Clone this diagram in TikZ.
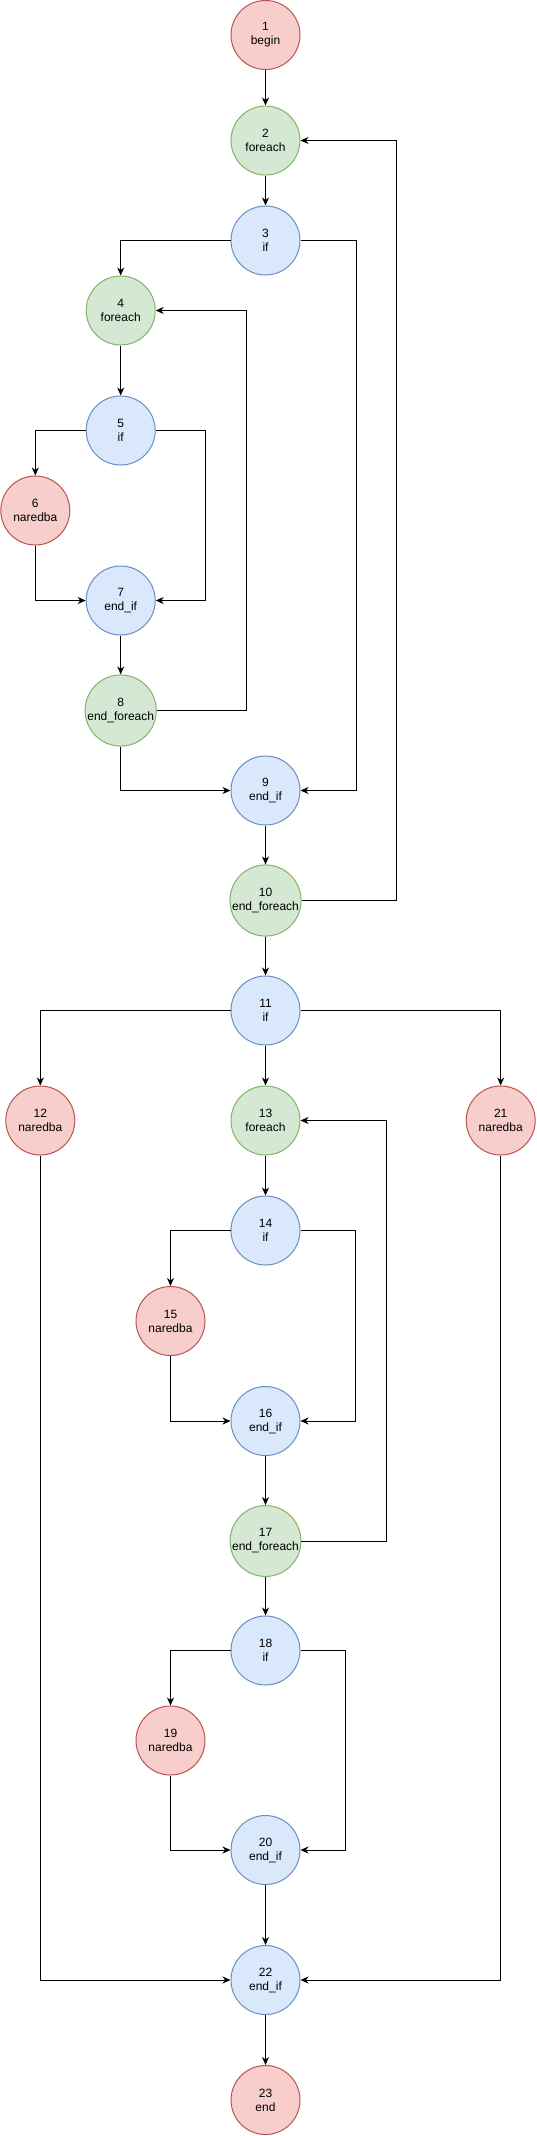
\documentclass[tikz,border=0pt]{standalone}
\usepackage{fontspec}
\setmainfont{Liberation Sans}
\usetikzlibrary{arrows.meta}
\definecolor{redF}{HTML}{F8CECC}\definecolor{redD}{HTML}{B85450}
\definecolor{grnF}{HTML}{D5E8D4}\definecolor{grnD}{HTML}{82B366}
\definecolor{bluF}{HTML}{DAE8FC}\definecolor{bluD}{HTML}{6C8EBF}
\begin{document}
\begin{tikzpicture}[x=1pt,y=-1pt,
  base/.style={circle, minimum size=69pt, inner sep=0pt, line width=1pt, align=center,
    font=\fontsize{12}{14}\selectfont, text=black},
  rednode/.style={base, fill=redF, draw=redD},
  grnnode/.style={base, fill=grnF, draw=grnD},
  blunode/.style={base, fill=bluF, draw=bluD},
  arr/.style={-{Stealth[length=8pt,width=7pt,inset=2.5pt]}, line width=1pt}]
\useasboundingbox (0,0) rectangle (537,2136);
\node[rednode] (n1) at (265.5,35) {1\\begin};
\node[grnnode] (n2) at (265.5,140.5) {2\\foreach};
\node[blunode] (n3) at (265.5,240.5) {3\\if};
\node[grnnode] (n4) at (120.7,310.5) {4\\foreach};
\node[blunode] (n5) at (120.7,430.5) {5\\if};
\node[rednode] (n6) at (35.3,510.5) {6\\naredba};
\node[blunode] (n7) at (120.7,600.5) {7\\end\_if};
\node[grnnode] (n8) at (120.7,710.5) {8\\end\_foreach};
\node[blunode] (n9) at (265.5,790.5) {9\\end\_if};
\node[grnnode] (n10) at (265.5,900.5) {10\\end\_foreach};
\node[blunode] (n11) at (265.5,1010.5) {11\\if};
\node[rednode] (n12) at (40.3,1120.5) {12\\naredba};
\node[grnnode] (n13) at (265.5,1120.5) {13\\foreach};
\node[rednode] (n21) at (500.7,1120.5) {21\\naredba};
\node[blunode] (n14) at (265.5,1230.5) {14\\if};
\node[rednode] (n15) at (170.5,1321) {15\\naredba};
\node[blunode] (n16) at (265.5,1421) {16\\end\_if};
\node[grnnode] (n17) at (265.5,1541) {17\\end\_foreach};
\node[blunode] (n18) at (265.5,1650.5) {18\\if};
\node[rednode] (n19) at (170.5,1740.5) {19\\naredba};
\node[blunode] (n20) at (265.5,1850) {20\\end\_if};
\node[blunode] (n22) at (265.5,1980) {22\\end\_if};
\node[rednode] (n23) at (265.5,2100) {23\\end};
\draw[arr] (n1) -- (n2);
\draw[arr] (n2) -- (n3);
\draw[arr] (n3.west) -| (n4.north);
\draw[arr] (n3.east) -- ++(55.5,0) |- (n9.east);
\draw[arr] (n4) -- (n5);
\draw[arr] (n5.west) -| (n6.north);
\draw[arr] (n5.east) -- ++(49.8,0) |- (n7.east);
\draw[arr] (n6.south) |- (n7.west);
\draw[arr] (n7) -- (n8);
\draw[arr] (n8.east) -- ++(90,0) |- (n4.east);
\draw[arr] (n8.south) |- (n9.west);
\draw[arr] (n9) -- (n10);
\draw[arr] (n10.east) -- ++(95.2,0) |- (n2.east);
\draw[arr] (n10) -- (n11);
\draw[arr] (n11.west) -| (n12.north);
\draw[arr] (n11) -- (n13);
\draw[arr] (n11.east) -| (n21.north);
\draw[arr] (n13) -- (n14);
\draw[arr] (n14.west) -| (n15.north);
\draw[arr] (n14.east) -- ++(54.6,0) |- (n16.east);
\draw[arr] (n15.south) |- (n16.west);
\draw[arr] (n16) -- (n17);
\draw[arr] (n17.east) -- ++(84.8,0) |- (n13.east);
\draw[arr] (n17) -- (n18);
\draw[arr] (n18.west) -| (n19.north);
\draw[arr] (n18.east) -- ++(44.8,0) |- (n20.east);
\draw[arr] (n19.south) |- (n20.west);
\draw[arr] (n20) -- (n22);
\draw[arr] (n12.south) |- (n22.west);
\draw[arr] (n21.south) |- (n22.east);
\draw[arr] (n22) -- (n23);
\end{tikzpicture}
\end{document}
